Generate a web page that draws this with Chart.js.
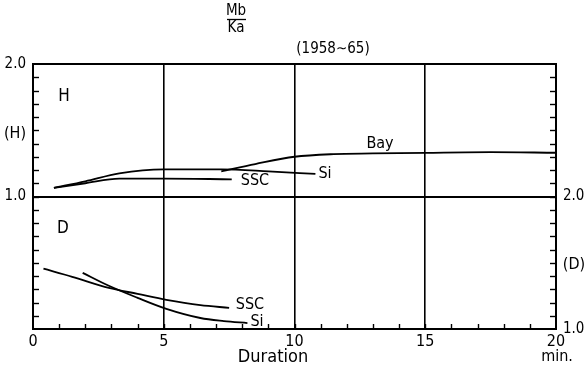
<!DOCTYPE html>
<html>
<head>
<meta charset="utf-8">
<script src="https://cdn.jsdelivr.net/npm/chart.js@4"></script>
<style>
  html, body { margin: 0; padding: 0; background: #fff; }
  canvas { display: block; }
</style>
</head>
<body>
<canvas id="c" width="586" height="371"></canvas>
<script>
// Ratio Mb/Ka against duration (min), 1958~65.
// Upper panel: H component (left axis). Lower panel: D component (right axis).

const hSscMin = [0.8, 2.0, 3.3, 5.0, 7.6];
const hSscVal = [1.065, 1.10, 1.135, 1.135, 1.13];

const hSiMin = [0.8, 2.0, 3.3, 5.0, 7.2, 9.0, 10.8];
const hSiVal = [1.065, 1.115, 1.175, 1.205, 1.205, 1.19, 1.17];

const hBayMin = [7.2, 8.5, 10.0, 11.5, 13.0, 15.0, 17.5, 20.0];
const hBayVal = [1.19, 1.245, 1.30, 1.32, 1.325, 1.33, 1.335, 1.33];

const dSscMin = [0.4, 1.5, 2.9, 4.0, 5.1, 6.4, 7.5];
const dSscVal = [1.455, 1.394, 1.31, 1.265, 1.22, 1.18, 1.16];

const dSiMin = [1.9, 2.9, 4.0, 5.1, 6.4, 7.3, 8.2];
const dSiVal = [1.424, 1.326, 1.235, 1.152, 1.083, 1.06, 1.045];

const xTickLabels = [0, 5, 10, 15, 20];
const hTickLabels = ['1.0', '2.0'];   // at 1.0 and 2.0 on the H axis
const dTickLabels = ['1.0', '2.0'];   // at 1.0 and 2.0 on the D axis

const FONT = "'DejaVu Sans Condensed', 'DejaVu Sans', sans-serif";
const INK = '#000';

function pairs(xs, ys) { return xs.map((x, i) => ({ x: x, y: ys[i] })); }
function near(a, b) { return Math.abs(a - b) < 1e-6; }

const curve = (data, axis) => ({
  data: data, yAxisID: axis, borderColor: INK, borderWidth: 1.8,
  pointRadius: 0, fill: false, cubicInterpolationMode: 'monotone'
});

// Inward tick marks, frame and text annotations.
const decorations = {
  id: 'decorations',
  afterDraw(chart) {
    const c = chart.ctx, a = chart.chartArea, s = chart.scales;
    c.save();
    c.strokeStyle = INK;
    c.lineWidth = 1.4;
    // left (H) ticks every 0.1
    for (let i = 1; i < 20; i++) {
      const y = Math.round(s.y.getPixelForValue(i / 10)) + 0.5;
      c.beginPath(); c.moveTo(a.left, y); c.lineTo(a.left + 6, y); c.stroke();
    }
    // right (D) ticks every 0.1
    for (let i = 1; i < 20; i++) {
      const y = Math.round(s.y2.getPixelForValue(1 + i / 10)) + 0.5;
      c.beginPath(); c.moveTo(a.right - 6, y); c.lineTo(a.right, y); c.stroke();
    }
    // bottom ticks every minute
    for (let m = 1; m < 20; m++) {
      const x = Math.round(s.x.getPixelForValue(m)) + 0.5;
      c.beginPath(); c.moveTo(x, a.bottom); c.lineTo(x, a.bottom - 5); c.stroke();
    }
    // top frame
    c.lineWidth = 2;
    c.beginPath(); c.moveTo(a.left - 1, a.top); c.lineTo(a.right + 1, a.top); c.stroke();

    // text
    c.fillStyle = INK;
    c.textAlign = 'center';
    c.textBaseline = 'middle';
    const t = (str, x, y, size) => { c.font = size + 'px ' + FONT; c.fillText(str, x, y); };
    t('Mb', 236, 11, 15);
    c.lineWidth = 1.3;
    c.beginPath(); c.moveTo(227, 19.5); c.lineTo(246, 19.5); c.stroke();
    t('Ka', 236, 28, 15);
    t('(1958\u223C65)', 333, 49, 15);
    t('H', 64, 97, 17);
    t('D', 63, 229, 17);
    t('(H)', 15, 134, 16);
    t('(D)', 574, 265, 16);
    t('Bay', 380, 144, 16);
    t('Si', 325, 174, 16);
    t('SSC', 255, 181, 16);
    t('SSC', 250, 305, 16);
    t('Si', 257, 322, 16);
    t('Duration', 273, 357, 18);
    t('min.', 557, 357, 16);
    c.restore();
  }
};

new Chart(document.getElementById('c'), {
  type: 'line',
  data: {
    datasets: [
      curve(pairs(hSscMin, hSscVal), 'y'),
      curve(pairs(hSiMin, hSiVal), 'y'),
      curve(pairs(hBayMin, hBayVal), 'y'),
      curve(pairs(dSscMin, dSscVal), 'y2'),
      curve(pairs(dSiMin, dSiVal), 'y2')
    ]
  },
  options: {
    responsive: false,
    animation: false,
    layout: { padding: { top: 64, left: 0, right: 0, bottom: 0 } },
    plugins: { legend: { display: false }, tooltip: { enabled: false } },
    scales: {
      x: {
        type: 'linear', min: 0, max: 20,
        ticks: {
          stepSize: 1, autoSkip: false, maxRotation: 0, padding: 3, color: INK,
          font: { family: FONT, size: 16 },
          callback: v => xTickLabels.includes(v) ? String(v) : ''
        },
        grid: {
          drawTicks: false, lineWidth: 1.6,
          color: ctx => (ctx.tick && [5, 10, 15].includes(ctx.tick.value)) ? INK : 'rgba(0,0,0,0)'
        },
        border: { display: true, color: INK, width: 2 },
        afterFit: s => { s.height = 42; }
      },
      y: {
        position: 'left', min: 0, max: 2,
        ticks: {
          stepSize: 0.1, autoSkip: false, padding: 7, color: INK,
          font: { family: FONT, size: 15 },
          callback: v => near(v, 1) ? hTickLabels[0] : (near(v, 2) ? hTickLabels[1] : '')
        },
        grid: {
          drawTicks: false, lineWidth: 2,
          color: ctx => (ctx.tick && near(ctx.tick.value, 1)) ? INK : 'rgba(0,0,0,0)'
        },
        border: { display: true, color: INK, width: 2 },
        afterFit: s => { s.width = 33; }
      },
      y2: {
        position: 'right', min: 1, max: 3,
        ticks: {
          stepSize: 0.1, autoSkip: false, padding: 7, color: INK,
          font: { family: FONT, size: 15 },
          callback: v => near(v, 1) ? dTickLabels[0] : (near(v, 2) ? dTickLabels[1] : '')
        },
        grid: { display: false, drawTicks: false },
        border: { display: true, color: INK, width: 2 },
        afterFit: s => { s.width = 30; }
      }
    }
  },
  plugins: [decorations]
});
</script>
</body>
</html>
